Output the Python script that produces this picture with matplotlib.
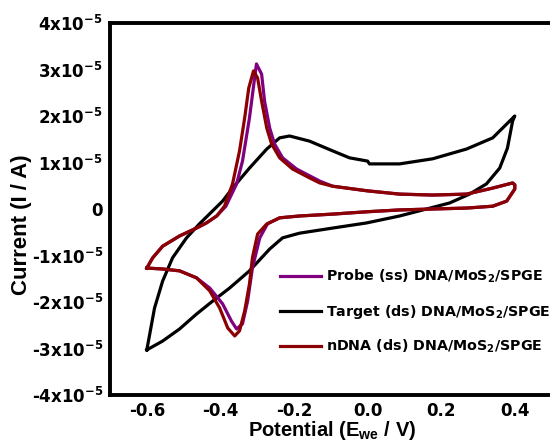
import matplotlib
matplotlib.use("Agg")
import matplotlib.pyplot as plt
from matplotlib.font_manager import FontProperties
import numpy as np

plt.rcParams['font.family'] = ['DejaVu Sans']
plt.rcParams['font.weight'] = 'bold'
plt.rcParams['axes.unicode_minus'] = False
plt.rcParams['mathtext.default'] = 'regular'

# ---- data (potential in V, current in units of 1e-5 A) ----
target_E = [-0.600, -0.592, -0.579, -0.557, -0.530, -0.492, -0.457, -0.421, -0.394, -0.367,
            -0.321, -0.274, -0.239, -0.212, -0.158, -0.095, -0.049, 0.000, 0.005, 0.087,
            0.177, 0.269, 0.340, 0.400,
            0.394, 0.380, 0.359, 0.323, 0.277, 0.223, 0.160, 0.087, -0.003, -0.095,
            -0.185, -0.231, -0.266, -0.321, -0.375, -0.421, -0.465, -0.511, -0.557, -0.600]
target_I = [-3.03, -2.69, -2.13, -1.55, -1.05, -0.62, -0.32, -0.04, 0.17, 0.45,
            0.88, 1.29, 1.53, 1.57, 1.46, 1.25, 1.10, 1.03, 0.97, 0.97,
            1.08, 1.29, 1.53, 2.00,
            1.89, 1.31, 0.88, 0.54, 0.32, 0.13, 0.00, -0.15, -0.30, -0.41,
            -0.52, -0.62, -0.86, -1.33, -1.70, -1.98, -2.26, -2.58, -2.84, -3.03]

ndna_E = [-0.600, -0.584, -0.557, -0.511, -0.465, -0.438, -0.410, -0.389, -0.367, -0.348,
          -0.334, -0.323, -0.310, -0.299, -0.288, -0.274, -0.261, -0.239, -0.204, -0.158,
          -0.130, -0.095, 0.000, 0.087, 0.177, 0.269, 0.340, 0.394, 0.400,
          0.400, 0.378, 0.340, 0.269, 0.177, 0.087, -0.003, -0.095, -0.185, -0.239,
          -0.274, -0.299, -0.313, -0.321, -0.334, -0.348, -0.361, -0.380, -0.402, -0.429,
          -0.465, -0.511, -0.557, -0.600]
ndna_I = [-1.27, -1.05, -0.80, -0.58, -0.41, -0.30, -0.15, 0.06, 0.54, 1.25,
          1.96, 2.60, 2.97, 2.82, 2.32, 1.74, 1.40, 1.10, 0.86, 0.67,
          0.56, 0.49, 0.39, 0.32, 0.30, 0.32, 0.45, 0.56, 0.52,
          0.43, 0.17, 0.06, 0.02, 0.00, -0.02, -0.06, -0.11, -0.15, -0.19,
          -0.32, -0.54, -1.05, -1.61, -2.19, -2.62, -2.73, -2.56, -2.13, -1.76,
          -1.48, -1.33, -1.29, -1.27]

probe_E = [-0.600, -0.584, -0.557, -0.511, -0.465, -0.438, -0.410, -0.385, -0.356, -0.340,
           -0.321, -0.307, -0.302, -0.288, -0.280, -0.266, -0.253, -0.231, -0.193, -0.130,
           -0.095, 0.000, 0.087, 0.177, 0.269, 0.340, 0.394, 0.400,
           0.400, 0.378, 0.340, 0.269, 0.177, 0.087, -0.003, -0.095, -0.185, -0.239,
           -0.272, -0.293, -0.313, -0.326, -0.340, -0.356, -0.370, -0.394, -0.429,
           -0.465, -0.511, -0.557, -0.600]
probe_I = [-1.27, -1.05, -0.80, -0.58, -0.41, -0.30, -0.15, 0.06, 0.54, 1.03,
           1.96, 2.82, 3.12, 2.90, 2.32, 1.74, 1.40, 1.10, 0.86, 0.60,
           0.49, 0.39, 0.32, 0.30, 0.32, 0.45, 0.56, 0.52,
           0.43, 0.17, 0.06, 0.02, 0.00, -0.02, -0.06, -0.11, -0.15, -0.19,
           -0.32, -0.62, -1.27, -1.98, -2.47, -2.58, -2.41, -2.04, -1.70,
           -1.48, -1.33, -1.29, -1.27]

labels = ['Probe (ss) DNA/MoS$_2$/SPGE',
          'Target (ds) DNA/MoS$_2$/SPGE',
          'nDNA (ds) DNA/MoS$_2$/SPGE']
colors = ['#800080', '#000000', '#8B0000']

yticks = [-4, -3, -2, -1, 0, 1, 2, 3, 4]
yticklabels = ['-4x10$^{-5}$', '-3x10$^{-5}$', '-2x10$^{-5}$', '-1x10$^{-5}$', '0',
               '1x10$^{-5}$', '2x10$^{-5}$', '3x10$^{-5}$', '4x10$^{-5}$']
xticks = [-0.6, -0.4, -0.2, 0.0, 0.2, 0.4]
xticklabels = ['-0.6', '-0.4', '-0.2', '0.0', '0.2', '0.4']

scale = 1e-5

fig = plt.figure(figsize=(5.5, 4.45), dpi=100)
W, H = 550, 445
ax = fig.add_axes([110 / W, (H - 395) / H, 460 / W, (395 - 23) / H])

lt, = ax.plot(target_E, np.array(target_I) * scale, color=colors[1], lw=2.3,
              solid_joinstyle='round', label=labels[1])
lp, = ax.plot(probe_E, np.array(probe_I) * scale, color=colors[0], lw=2.3,
              solid_joinstyle='round', label=labels[0])
ln, = ax.plot(ndna_E, np.array(ndna_I) * scale, color=colors[2], lw=2.3,
              solid_joinstyle='round', label=labels[2])

ax.set_xlim(-0.70, 0.55)
ax.set_ylim(-4e-5, 4e-5)
ax.set_xticks(xticks)
ax.set_xticklabels(xticklabels)
ax.set_yticks([v * scale for v in yticks])
ax.set_yticklabels(yticklabels)
ax.tick_params(length=0, labelsize=12, pad=5)
for lab in ax.get_xticklabels() + ax.get_yticklabels():
    lab.set_fontweight('bold')
for s in ax.spines.values():
    s.set_linewidth(2.8)

xl_fp = FontProperties(family='Liberation Sans', weight='bold', size=14.5)
yl_fp = FontProperties(family='Liberation Sans', weight='bold', size=16)
ax.set_xlabel('Potential (E$_{we}$ / V)', fontproperties=xl_fp)
ax.xaxis.set_label_coords((332 - 110) / 460, (395 - 419) / 372)
ax.set_ylabel('Current (I / A)', fontproperties=yl_fp)
ax.yaxis.set_label_coords((32 - 110) / 460, (395 - 225) / 372)

leg = fig.legend(handles=[lp, lt, ln], labels=labels,
                 loc='upper left', bbox_to_anchor=(280 / W, 1 - 268 / H),
                 frameon=False, fontsize=10.3, handlelength=2.9, handletextpad=0.3,
                 labelspacing=1.2, borderpad=0, borderaxespad=0)
for t in leg.get_texts():
    t.set_fontweight('bold')

fig.savefig('out.png', dpi=100)
